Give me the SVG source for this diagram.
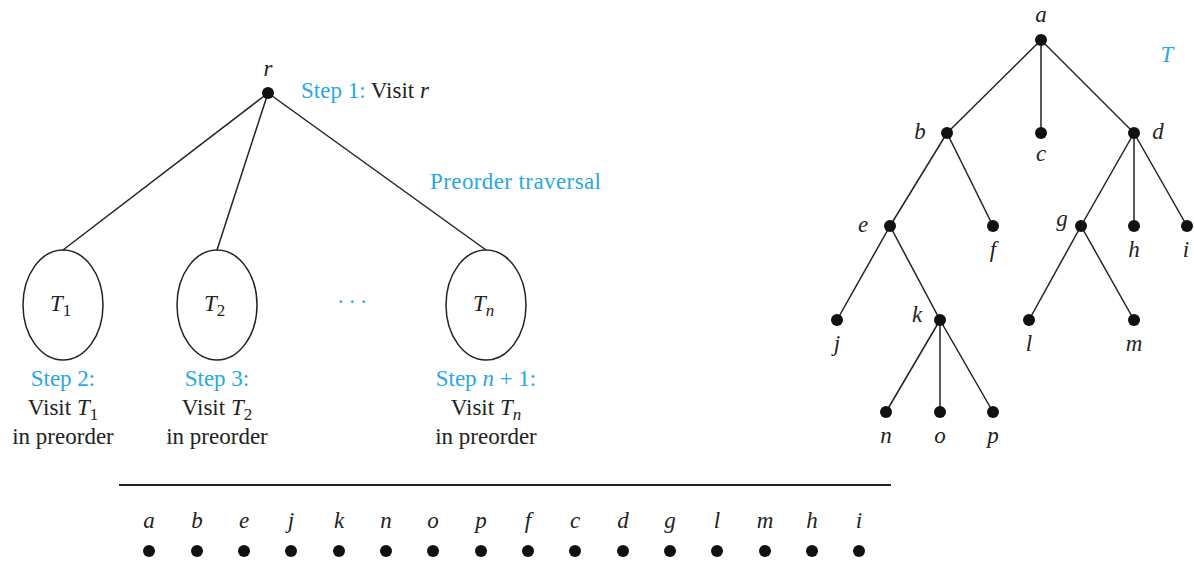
<svg xmlns="http://www.w3.org/2000/svg" width="1194" height="581" viewBox="0 0 1194 581">
<style>
.e{stroke:#222;stroke-width:1.5;fill:none}
.d{fill:#111}
.t{font-family:"Liberation Serif",serif;font-size:23px;fill:#222}
.i{font-family:"Liberation Serif",serif;font-size:23px;font-style:italic;fill:#222}
.b{fill:#27a8e0}
.m{text-anchor:middle}
</style>
<rect width="1194" height="581" fill="#fff"/>
<g id="connectors">
<line class="e" x1="268" y1="93" x2="63" y2="250"/>
<line class="e" x1="268" y1="93" x2="217" y2="250"/>
<line class="e" x1="268" y1="93" x2="486" y2="250"/>
<line class="e" x1="1041" y1="40" x2="947" y2="133"/>
<line class="e" x1="1041" y1="40" x2="1041" y2="133"/>
<line class="e" x1="1041" y1="40" x2="1134" y2="133"/>
<line class="e" x1="947" y1="133" x2="890" y2="226"/>
<line class="e" x1="947" y1="133" x2="993" y2="226"/>
<line class="e" x1="1134" y1="133" x2="1081" y2="226"/>
<line class="e" x1="1134" y1="133" x2="1134" y2="226"/>
<line class="e" x1="1134" y1="133" x2="1187" y2="226"/>
<line class="e" x1="890" y1="226" x2="837" y2="320"/>
<line class="e" x1="890" y1="226" x2="940" y2="320"/>
<line class="e" x1="1081" y1="226" x2="1029" y2="320"/>
<line class="e" x1="1081" y1="226" x2="1134" y2="320"/>
<line class="e" x1="940" y1="320" x2="886" y2="412"/>
<line class="e" x1="940" y1="320" x2="940" y2="412"/>
<line class="e" x1="940" y1="320" x2="993" y2="412"/>
</g>
<g id="r"><circle class="d" cx="268" cy="93" r="6"/><text class="i m" x="268" y="76">r</text>
<text class="t" x="301" y="98"><tspan class="b">Step 1:</tspan> Visit <tspan font-style="italic">r</tspan></text></g>
<g id="preorder"><text class="t b" x="430" y="189" textLength="171">Preorder traversal</text></g>
<g id="T1"><ellipse class="e" cx="63" cy="305" rx="40" ry="55"/><text class="i" x="50" y="311">T<tspan font-style="normal" font-size="17" dy="5">1</tspan></text>
<text class="t m" x="63" y="386"><tspan class="b">Step 2:</tspan></text>
<text class="t m" x="63" y="415">Visit <tspan font-style="italic">T</tspan><tspan font-size="17" dy="5">1</tspan></text>
<text class="t m" x="63" y="444">in preorder</text></g>
<g id="T2"><ellipse class="e" cx="217" cy="305" rx="40" ry="55"/><text class="i" x="204" y="311">T<tspan font-style="normal" font-size="17" dy="5">2</tspan></text>
<text class="t m" x="217" y="386"><tspan class="b">Step 3:</tspan></text>
<text class="t m" x="217" y="415">Visit <tspan font-style="italic">T</tspan><tspan font-size="17" dy="5">2</tspan></text>
<text class="t m" x="217" y="444">in preorder</text></g>
<g id="dots"><text class="t b m" x="352" y="303">. . .</text></g>
<g id="Tn"><ellipse class="e" cx="486" cy="305" rx="40" ry="55"/><text class="i" x="473" y="311">T<tspan font-size="17" dy="5">n</tspan></text>
<text class="t m b" x="486" y="386">Step <tspan font-style="italic">n</tspan> + 1:</text>
<text class="t m" x="486" y="415">Visit <tspan font-style="italic">T</tspan><tspan font-style="italic" font-size="17" dy="5">n</tspan></text>
<text class="t m" x="486" y="444">in preorder</text></g>
<g id="tree">
<g id="a"><circle class="d" cx="1041" cy="40" r="6"/><text class="i m" x="1041" y="22">a</text></g>
<g id="Tlabel"><text class="i b m" x="1167" y="62">T</text></g>
<g id="b"><circle class="d" cx="947" cy="133" r="6"/><text class="i m" x="920" y="139">b</text></g>
<g id="c"><circle class="d" cx="1041" cy="133" r="6"/><text class="i m" x="1041" y="161">c</text></g>
<g id="d"><circle class="d" cx="1134" cy="133" r="6"/><text class="i m" x="1158" y="139">d</text></g>
<g id="e"><circle class="d" cx="890" cy="226" r="6"/><text class="i m" x="863" y="232">e</text></g>
<g id="f"><circle class="d" cx="993" cy="226" r="6"/><text class="i m" x="993" y="257">f</text></g>
<g id="g"><circle class="d" cx="1081" cy="226" r="6"/><text class="i m" x="1062" y="226">g</text></g>
<g id="h"><circle class="d" cx="1134" cy="226" r="6"/><text class="i m" x="1134" y="257">h</text></g>
<g id="i"><circle class="d" cx="1187" cy="226" r="6"/><text class="i m" x="1186" y="257">i</text></g>
<g id="j"><circle class="d" cx="837" cy="320" r="6"/><text class="i m" x="837" y="351">j</text></g>
<g id="k"><circle class="d" cx="940" cy="320" r="6"/><text class="i m" x="917" y="322">k</text></g>
<g id="l"><circle class="d" cx="1029" cy="320" r="6"/><text class="i m" x="1029" y="351">l</text></g>
<g id="m"><circle class="d" cx="1134" cy="320" r="6"/><text class="i m" x="1134" y="351">m</text></g>
<g id="n"><circle class="d" cx="886" cy="412" r="6"/><text class="i m" x="886" y="443">n</text></g>
<g id="o"><circle class="d" cx="940" cy="412" r="6"/><text class="i m" x="940" y="443">o</text></g>
<g id="p"><circle class="d" cx="993" cy="412" r="6"/><text class="i m" x="993" y="443">p</text></g>
</g>
<g id="sequence">
<line x1="119" y1="485" x2="891" y2="485" stroke="#222" stroke-width="2"/>
<g class="i m">
<text x="149" y="528">a</text><text x="197" y="528">b</text><text x="244" y="528">e</text><text x="291" y="528">j</text>
<text x="339" y="528">k</text><text x="386" y="528">n</text><text x="433" y="528">o</text><text x="481" y="528">p</text>
<text x="528" y="528">f</text><text x="575" y="528">c</text><text x="623" y="528">d</text><text x="670" y="528">g</text>
<text x="717" y="528">l</text><text x="765" y="528">m</text><text x="812" y="528">h</text><text x="859" y="528">i</text>
</g>
<g class="d">
<circle cx="149" cy="551" r="6"/><circle cx="197" cy="551" r="6"/><circle cx="244" cy="551" r="6"/><circle cx="291" cy="551" r="6"/>
<circle cx="339" cy="551" r="6"/><circle cx="386" cy="551" r="6"/><circle cx="433" cy="551" r="6"/><circle cx="481" cy="551" r="6"/>
<circle cx="528" cy="551" r="6"/><circle cx="575" cy="551" r="6"/><circle cx="623" cy="551" r="6"/><circle cx="670" cy="551" r="6"/>
<circle cx="717" cy="551" r="6"/><circle cx="765" cy="551" r="6"/><circle cx="812" cy="551" r="6"/><circle cx="859" cy="551" r="6"/>
</g>
</g>
</svg>
